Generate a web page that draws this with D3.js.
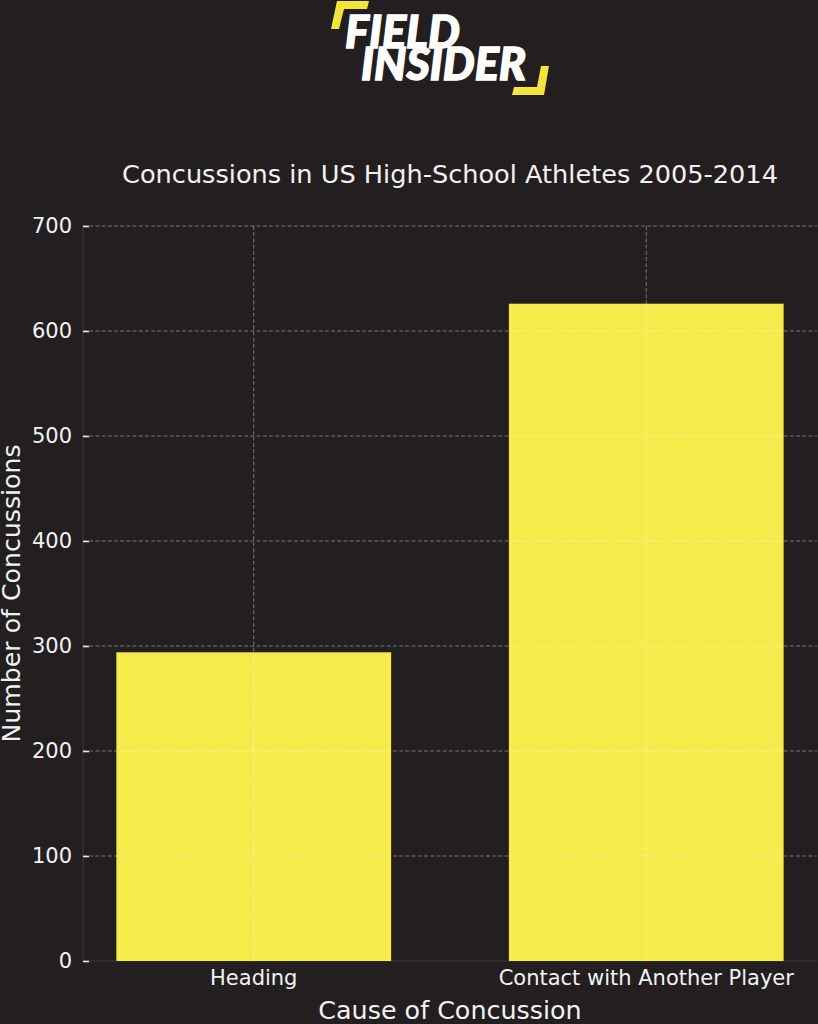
<!DOCTYPE html>
<html><head><meta charset="utf-8">
<script src="https://cdn.jsdelivr.net/npm/d3@7"></script>
<style>html,body{margin:0;padding:0;background:#231f20;}</style>
</head><body>
<svg id="c" width="818" height="1024"></svg>
<script>
// ---- data ----
const categories = ["Heading", "Contact with Another Player"];
const concussions = [294, 626];
const yTicks = [0, 100, 200, 300, 400, 500, 600, 700];
const titleText = "Concussions in US High-School Athletes 2005-2014";
const xLabelText = "Cause of Concussion";
const yLabelText = "Number of Concussions";

// ---- layout ----
const W = 818, H = 1024;
const m = {left: 83, right: 817, top: 226, bottom: 961};
const bg = "#231f20", barColor = "#f6eb4b", textColor = "#f2f2f2";
const font = "DejaVu Sans";

const svg = d3.select("#c");
svg.append("rect").attr("width", W).attr("height", H).attr("fill", bg);

// ---- logo ----
const logo = svg.append("g");
logo.append("polygon").attr("points", "337,1 369,1 367,9 344,9 339,29 331,29").attr("fill", "#f3e53b");
logo.append("polygon").attr("points", "541,66 549,66 544,95 512,95 514,87 537,87").attr("fill", "#f3e53b");
logo.append("text").attr("x", 345).attr("y", 48).attr("font-family", "Lato").attr("font-weight", 900)
  .attr("font-style", "italic").attr("font-size", 45).attr("fill", "#ffffff")
  .attr("stroke", "#ffffff").attr("stroke-width", 1.4).attr("stroke-linejoin", "miter").text("FIELD");
logo.append("text").attr("x", 361).attr("y", 80).attr("font-family", "Lato").attr("font-weight", 900)
  .attr("font-style", "italic").attr("font-size", 45).attr("fill", "#ffffff")
  .attr("stroke", "#ffffff").attr("stroke-width", 1.4).attr("stroke-linejoin", "miter").text("INSIDER");

// ---- scales ----
const x = d3.scaleBand().domain(categories).range([m.left, m.right]).paddingInner(0.3).paddingOuter(0.085);
const y = d3.scaleLinear().domain([0, 700]).range([m.bottom, m.top]);

// spines
svg.append("line").attr("x1", m.left).attr("x2", m.left).attr("y1", m.top).attr("y2", m.bottom)
  .attr("stroke", "#3b3839").attr("stroke-width", 1);
svg.append("line").attr("x1", m.left).attr("x2", m.right).attr("y1", m.bottom).attr("y2", m.bottom)
  .attr("stroke", "#3b3839").attr("stroke-width", 1);

// bars
svg.append("g").selectAll("rect").data(categories).join("rect")
  .attr("x", d => x(d)).attr("width", x.bandwidth())
  .attr("y", (d, i) => y(concussions[i])).attr("height", (d, i) => y(0) - y(concussions[i]))
  .attr("fill", barColor);

// grid (drawn over bars)
const grid = svg.append("g").attr("stroke", "#ffffff").attr("stroke-opacity", 0.38)
  .attr("stroke-width", 1).attr("stroke-dasharray", "4,2.2");
grid.selectAll("line.h").data(yTicks.filter(t => t > 0)).join("line").attr("class", "h")
  .attr("x1", m.left).attr("x2", m.right).attr("y1", d => y(d)).attr("y2", d => y(d));
grid.selectAll("line.v").data(categories).join("line").attr("class", "v")
  .attr("x1", d => x(d) + x.bandwidth() / 2).attr("x2", d => x(d) + x.bandwidth() / 2)
  .attr("y1", m.top).attr("y2", m.bottom);

// y axis
const yAxis = svg.append("g").attr("transform", `translate(${m.left},0)`)
  .call(d3.axisLeft(y).tickValues(yTicks).tickSize(-6).tickPadding(11).tickFormat(d3.format("d")));
yAxis.select(".domain").remove();
yAxis.selectAll(".tick line").attr("stroke", "#e8e8e8").attr("stroke-width", 1.6);
yAxis.selectAll(".tick text").attr("fill", textColor).attr("font-family", font).attr("font-size", 21);

// x axis
const xAxis = svg.append("g").attr("transform", `translate(0,${m.bottom})`)
  .call(d3.axisBottom(x).tickSize(0).tickPadding(9));
xAxis.select(".domain").remove();
xAxis.selectAll(".tick text").attr("fill", textColor).attr("font-family", font).attr("font-size", 21);

// title & labels
svg.append("text").attr("x", (m.left + m.right) / 2).attr("y", 183).attr("text-anchor", "middle")
  .attr("fill", textColor).attr("font-family", font).attr("font-size", 25.6).text(titleText);
svg.append("text").attr("x", (m.left + m.right) / 2).attr("y", 1019).attr("text-anchor", "middle")
  .attr("fill", textColor).attr("font-family", font).attr("font-size", 25.4).text(xLabelText);
svg.append("text").attr("transform", `translate(20,${(m.top + m.bottom) / 2}) rotate(-90)`).attr("text-anchor", "middle")
  .attr("fill", textColor).attr("font-family", font).attr("font-size", 25.2).text(yLabelText);
</script></body></html>
